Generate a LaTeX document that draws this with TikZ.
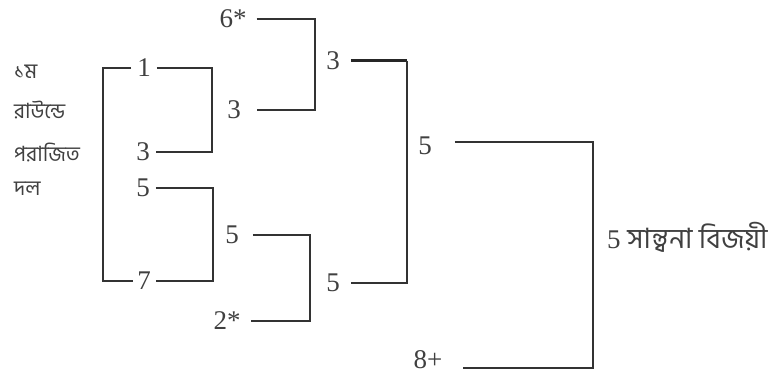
\documentclass[tikz,border=0pt]{standalone}
\usepackage{fontspec}
\setmainfont{Liberation Serif}
\newfontfamily\bn[Script=Bengali]{Hind Siliguri}
\usetikzlibrary{calc}
\begin{document}
\begin{tikzpicture}[x=1pt,y=-1pt,
  num/.style={font=\fontsize{27}{27}\selectfont, text=black!75, inner sep=0pt},
  lbl/.style={font=\bn\fontsize{21}{21}\selectfont, text=black!75, inner sep=0pt, anchor=west},
  ln/.style={line width=1.8pt, draw=black!80},
  thk/.style={line width=3pt, draw=black!85}]
\useasboundingbox[fill=white] (0,0) rectangle (776,377);
% left labels
\node[lbl] (l1) at (14,72) {১ম};
\node[lbl] (l2) at (14,110) {রাউন্ডে};
\node[lbl] (l3) at (14,152) {পরাজিত};
\node[lbl] (l4) at (14,189) {দল};
% round 1
\node[num] (n1) at (144,68) {1};
\node[num] (n3a) at (143,152) {3};
\node[num] (n5a) at (143,188) {5};
\node[num] (n7) at (144,281) {7};
\coordinate (lb) at (103,176);
\draw[ln] ([xshift=-6pt]n1.west) -| (lb) |- ([xshift=-4pt]n7.west);
\coordinate (j1) at (212,110);
\draw[ln] ([xshift=6pt]n1.east) -| (j1) |- ([xshift=6pt]n3a.east);
\coordinate (j2) at (213,234);
\draw[ln] ([xshift=6pt]n5a.east) -| (j2) |- ([xshift=5pt]n7.east);
% round 2
\node[num] (n6) at (233,19) {6*};
\node[num] (w3a) at (234,110) {3};
\node[num] (w5a) at (232,235) {5};
\node[num] (n2) at (227,321) {2*};
\coordinate (j3) at (315,65);
\draw[ln] ([xshift=10pt]n6.east) -| (j3) |- ([xshift=16pt]w3a.east);
\coordinate (j4) at (310,278);
\draw[ln] ([xshift=14pt]w5a.east) -| (j4) |- ([xshift=10pt]n2.east);
% round 3
\node[num] (w3b) at (333,61) {3};
\node[num] (w5b) at (333,283) {5};
\coordinate (j5) at (407,170);
\draw[thk] ([xshift=11pt]w3b.east) -- (w3b.east -| j5);
\draw[ln] (w3b.east -| j5) -- (j5) |- ([xshift=11pt]w5b.east);
% round 4
\node[num] (w5c) at (425,146) {5};
\node[num] (n8) at (428,360) {8+};
\coordinate (j6) at (593,255);
\draw[ln] ([xshift=23pt,yshift=4pt]w5c.east) -| (j6) |- ([xshift=20pt,yshift=-8pt]n8.east);
% final
\node[num, anchor=west] (fin) at (607,237) {5 {\bn\fontsize{28}{28}\selectfont সান্ত্বনা বিজয়ী}};
\end{tikzpicture}
\end{document}
